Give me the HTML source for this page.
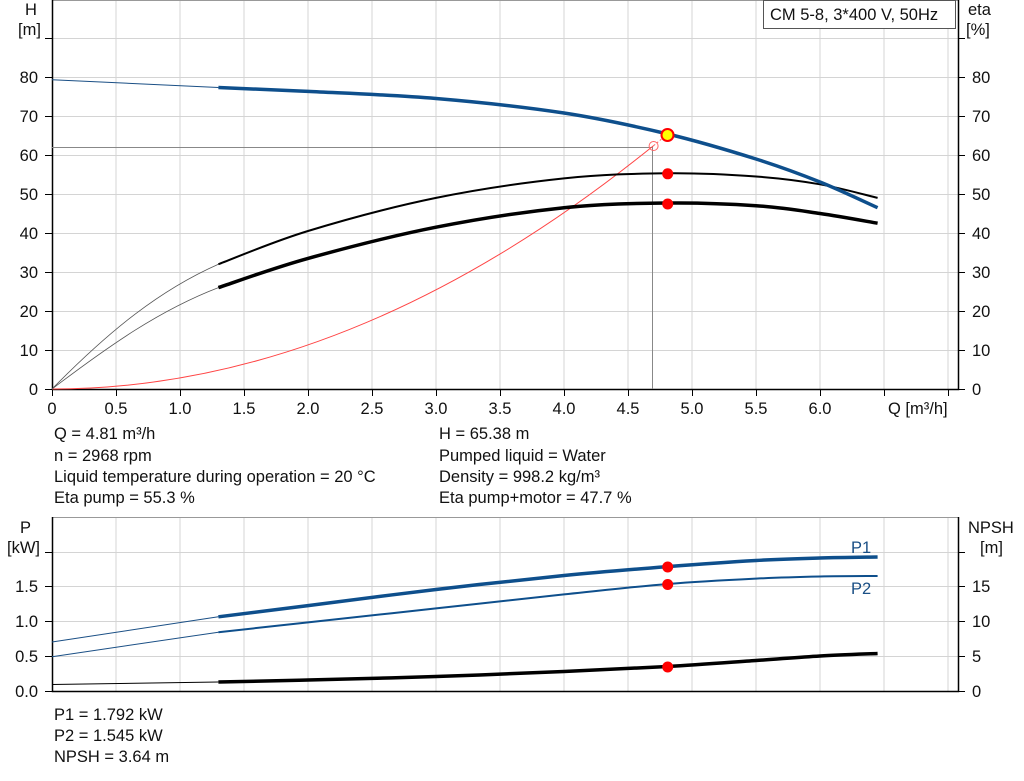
<!DOCTYPE html>
<html><head><meta charset="utf-8"><style>
body{margin:0;background:#fff}
svg{display:block;font-family:"Liberation Sans",Arial,sans-serif}
text{font-size:16.5px;fill:#111}
</style></head><body>
<svg id="s" width="1024" height="781" viewBox="0 0 1024 781">
<g stroke="#d4d4d4" stroke-width="1">
<path d="M116 0V389M180 0V389M244 0V389M308 0V389M372 0V389M436 0V389M500 0V389M564 0V389M628 0V389M692 0V389M756 0V389M820 0V389M884 0V389M948 0V389"/>
<path d="M52 38.5H958M52 77.5H958M52 116.5H958M52 155.5H958M52 194.5H958M52 233.5H958M52 272.5H958M52 311.5H958M52 350.5H958"/>
</g>
<path d="M52 0.5H958" stroke="#999"/>
<path d="M52.5 0V389.5H958.5V0" stroke="#000" fill="none" stroke-width="1.5"/>
<g stroke="#000"><path d="M45 389.5H52M45 350.5H52M45 311.5H52M45 272.5H52M45 233.5H52M45 194.5H52M45 155.5H52M45 116.5H52M45 77.5H52M45 38.5H52"/>
<path d="M958 389.5H965M958 350.5H965M958 311.5H965M958 272.5H965M958 233.5H965M958 194.5H965M958 155.5H965M958 116.5H965M958 77.5H965M958 38.5H965"/>
<path d="M52.5 389V396M116.5 389V396M180.5 389V396M244.5 389V396M308.5 389V396M372.5 389V396M436.5 389V396M500.5 389V396M564.5 389V396M628.5 389V396M692.5 389V396M756.5 389V396M820.5 389V396M884.5 389V396M948.5 389V396"/></g>
<g text-anchor="end"><text x="38" y="395">0</text><text x="38" y="356">10</text><text x="38" y="317">20</text><text x="38" y="278">30</text><text x="38" y="239">40</text><text x="38" y="200">50</text><text x="38" y="161">60</text><text x="38" y="122">70</text><text x="38" y="83">80</text></g>
<g><text x="972" y="395">0</text><text x="972" y="356">10</text><text x="972" y="317">20</text><text x="972" y="278">30</text><text x="972" y="239">40</text><text x="972" y="200">50</text><text x="972" y="161">60</text><text x="972" y="122">70</text><text x="972" y="83">80</text></g>
<g text-anchor="middle"><text x="52" y="414">0</text><text x="116" y="414">0.5</text><text x="180" y="414">1.0</text><text x="244" y="414">1.5</text><text x="308" y="414">2.0</text><text x="372" y="414">2.5</text><text x="436" y="414">3.0</text><text x="500" y="414">3.5</text><text x="564" y="414">4.0</text><text x="628" y="414">4.5</text><text x="692" y="414">5.0</text><text x="756" y="414">5.5</text><text x="820" y="414">6.0</text></g>
<text x="888" y="414">Q [m³/h]</text>
<text x="25" y="15">H</text><text x="18" y="35">[m]</text>
<text x="968" y="15">eta</text><text x="966" y="35">[%]</text>
<rect x="763.5" y="0.5" width="192" height="28" fill="#fff" stroke="#555"/>
<text x="770" y="20">CM 5-8, 3*400 V, 50Hz</text>
<path d="M52 147.5H653M652.5 147V389" stroke="#888" fill="none"/>
<path d="M52 389Q352.8 389 653.6 145.6" stroke="#f44" fill="none" stroke-width="1"/>
<path d="M653.6 145.6L667.7 134" stroke="#f66" stroke-dasharray="2,2"/>
<circle cx="653.6" cy="146" r="4.5" fill="none" stroke="#f66"/>
<path d="M52 389C110 330 160 290 218.4 264.2" stroke="#555" fill="none" stroke-width="0.8"/>
<path d="M52 389C110 345 160 310 218.4 287.6" stroke="#555" fill="none" stroke-width="0.8"/>
<path class="sm" data-p="218.4,264.2 308,231 436,197.9 564,178.4 667.7,173.3 756,176.5 820,184.3 877.6,197.9" fill="none" stroke="#000" stroke-width="2"/>
<path class="sm" data-p="218.4,287.6 308,258.4 436,227.2 564,207.7 667.7,203 756,205.7 820,213.5 877.6,223.2" fill="none" stroke="#000" stroke-width="3.5"/>
<path d="M52 79.7L218.4 87.5" stroke="#1a4f85" stroke-width="1"/>
<path class="sm" data-p="218.4,87.5 308,91.4 436,98.5 564,113 667.7,134 756,159 820,182 877.6,207.7" fill="none" stroke="#0e4f8c" stroke-width="3.5"/>
<circle cx="667.7" cy="173.8" r="5.5" fill="#f00"/>
<circle cx="667.7" cy="204" r="5.5" fill="#f00"/>
<circle cx="667.5" cy="135" r="6" fill="#ff0" stroke="#f00" stroke-width="2"/>
<text x="54" y="439">Q = 4.81 m³/h</text><text x="54" y="461">n = 2968 rpm</text><text x="54" y="482">Liquid temperature during operation = 20 °C</text><text x="54" y="503">Eta pump = 55.3 %</text>
<text x="439" y="439">H = 65.38 m</text><text x="439" y="461">Pumped liquid = Water</text><text x="439" y="482">Density = 998.2 kg/m³</text><text x="439" y="503">Eta pump+motor = 47.7 %</text>
<g stroke="#d4d4d4">
<path d="M116 517V691M180 517V691M244 517V691M308 517V691M372 517V691M436 517V691M500 517V691M564 517V691M628 517V691M692 517V691M756 517V691M820 517V691M884 517V691M948 517V691"/>
<path d="M52 552.5H958M52 586.5H958M52 621.5H958M52 656.5H958"/>
</g>
<path d="M52 517.5H958" stroke="#999"/>
<path d="M52.5 517V691.5H958.5V517" stroke="#000" fill="none" stroke-width="1.5"/>
<g stroke="#000"><path d="M45 691.5H52M45 656.5H52M45 621.5H52M45 586.5H52M45 552.5H52M958 691.5H965M958 656.5H965M958 621.5H965M958 586.5H965M958 552.5H965"/></g>
<g text-anchor="end"><text x="38" y="697">0.0</text><text x="38" y="662">0.5</text><text x="38" y="627">1.0</text><text x="38" y="592">1.5</text></g>
<g><text x="972" y="697">0</text><text x="972" y="662">5</text><text x="972" y="627">10</text><text x="972" y="592">15</text></g>
<text x="20" y="533">P</text><text x="7" y="553">[kW]</text>
<text x="968" y="533">NPSH</text><text x="980" y="553">[m]</text>
<path d="M52 642L218.4 616.8M52 656.7L218.4 632.2" stroke="#1a4f85" stroke-width="1"/>
<path class="sm" data-p="218.4,616.8 308,605.6 436,589.5 564,575.5 667.7,566.6 756,560.5 820,558 877.6,557" fill="none" stroke="#0e4f8c" stroke-width="3.5"/>
<path class="sm" data-p="218.4,632.2 308,622.4 436,608.4 564,594.4 667.7,584 756,578.6 820,576.5 877.6,576" fill="none" stroke="#0e4f8c" stroke-width="2"/>
<path d="M52 684.5L218.4 682" stroke="#000" stroke-width="1"/>
<path class="sm" data-p="218.4,682 308,680 436,676.5 564,671.5 667.7,666.5 756,660.5 820,656 877.6,653.5" fill="none" stroke="#000" stroke-width="3.5"/>
<circle cx="667.7" cy="567" r="5.5" fill="#f00"/>
<circle cx="667.7" cy="584.5" r="5.5" fill="#f00"/>
<circle cx="667.7" cy="667" r="5.5" fill="#f00"/>
<text x="851" y="553" style="fill:#1a4f85">P1</text>
<text x="851" y="594" style="fill:#1a4f85">P2</text>
<text x="54" y="720">P1 = 1.792 kW</text><text x="54" y="741">P2 = 1.545 kW</text><text x="54" y="762">NPSH = 3.64 m</text>
</svg>
<script>
document.querySelectorAll('.sm').forEach(function(el){
var p=el.getAttribute('data-p').split(' ').map(function(s){return s.split(',').map(Number);});
var d='M'+p[0][0]+' '+p[0][1];
for(var i=0;i<p.length-1;i++){
var p0=p[i-1]||p[i],p1=p[i],p2=p[i+1],p3=p[i+2]||p2;
var c1=[p1[0]+(p2[0]-p0[0])/6,p1[1]+(p2[1]-p0[1])/6];
var c2=[p2[0]-(p3[0]-p1[0])/6,p2[1]-(p3[1]-p1[1])/6];
d+='C'+c1[0]+' '+c1[1]+' '+c2[0]+' '+c2[1]+' '+p2[0]+' '+p2[1];
}
el.setAttribute('d',d);
});
</script>
</body></html>
